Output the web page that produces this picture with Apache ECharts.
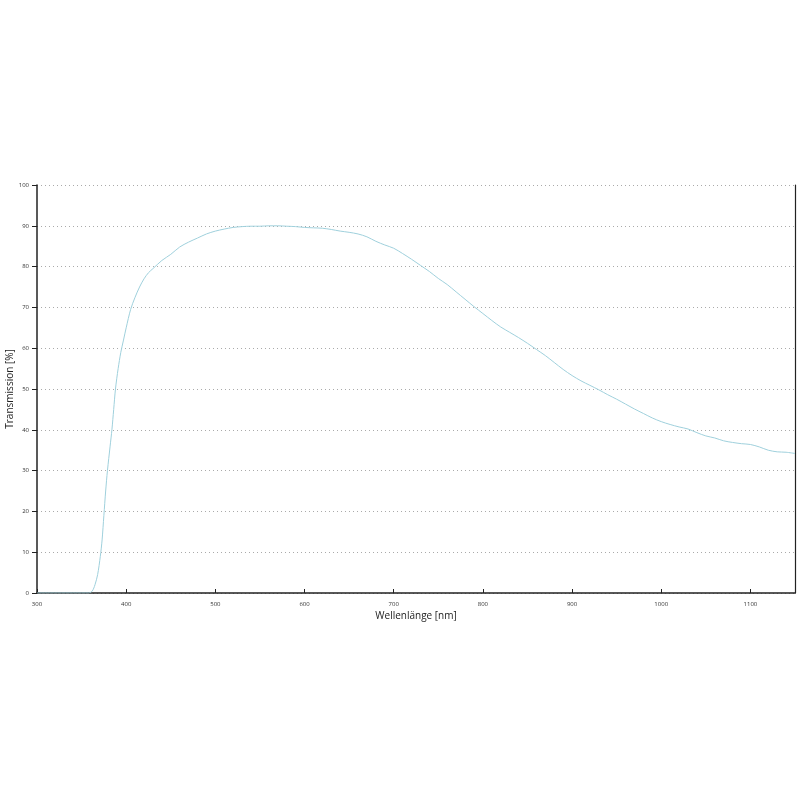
<!DOCTYPE html>
<html>
<head>
<meta charset="utf-8">
<script src="https://cdn.jsdelivr.net/npm/echarts@6/dist/echarts.min.js"></script>
<style>
  html, body { margin: 0; padding: 0; background: #fff; }
  #chart { width: 800px; height: 800px; }
</style>
</head>
<body>
<div id="chart"></div>
<script>
// wavelength in nm
const wavelengths = [
  300, 350, 358, 362, 365, 368, 371, 373, 375, 377, 379, 382, 384, 386, 388, 391, 394, 397,
  400, 405, 410, 415, 420, 425, 430, 440, 450, 460, 470, 480, 490,
  500, 510, 520, 530, 540, 550, 560, 570, 580, 590,
  600, 610, 620, 630, 640, 650, 660, 670, 680, 690,
  700, 710, 720, 730, 740, 750, 760, 770, 780, 790,
  800, 810, 820, 830, 840, 850, 860, 870, 880, 890,
  900, 910, 920, 930, 940, 950, 960, 970, 980, 990,
  1000, 1010, 1020, 1030, 1040, 1050, 1060, 1070, 1080, 1090,
  1100, 1110, 1120, 1130, 1140, 1150
]
// transmission in %
const transmission = [
  0, 0, 0, 0.5, 2, 4.5, 9, 13, 19, 25, 30, 36, 40, 45, 50, 55, 59, 62,
  65, 69.5, 72.5, 75, 77, 78.5, 79.5, 81.5, 83, 84.8, 86, 87, 88,
  88.7, 89.2, 89.6, 89.8, 89.9, 89.9, 90, 90, 89.9, 89.8,
  89.6, 89.5, 89.4, 89.1, 88.7, 88.4, 88, 87.3, 86.2, 85.3,
  84.5, 83.2, 81.8, 80.3, 78.8, 77.1, 75.6, 73.8, 72, 70.2,
  68.5, 66.8, 65.2, 63.9, 62.6, 61.2, 59.7, 58.2, 56.5, 54.8,
  53.3, 52, 50.9, 49.8, 48.6, 47.5, 46.3, 45.1, 44, 42.9,
  42, 41.3, 40.7, 40.2, 39.3, 38.5, 38, 37.3, 36.9, 36.6,
  36.4, 35.8, 35, 34.6, 34.5, 34.2
]

const myChart = echarts.init(document.getElementById('chart'))
myChart.setOption({
  animation: false,
  textStyle: { fontFamily: 'Open Sans' },
  grid: { left: 37, right: 5, top: 185, bottom: 207, containLabel: false, outerBoundsMode: 'none' },
  xAxis: {
    type: 'value',
    min: 300,
    max: 1150,
    interval: 100,
    name: 'Wellenlänge [nm]',
    nameLocation: 'middle',
    nameGap: 18,
    nameMoveOverlap: false,
    nameTextStyle: { fontSize: 10, color: '#222' },
    axisLine: { lineStyle: { color: '#222', width: 1.5 } },
    axisTick: { show: true, inside: true, length: 4, lineStyle: { color: '#222' } },
    axisLabel: { fontSize: 6, color: '#333', margin: 8, showMaxLabel: false, formatter: v => String(v) },
    splitLine: { show: false }
  },
  yAxis: [
    {
      type: 'value',
      min: 0,
      max: 100,
      interval: 10,
      name: 'Transmission [%]',
      nameLocation: 'middle',
      nameGap: 22,
      nameMoveOverlap: false,
      nameTextStyle: { fontSize: 10, color: '#222' },
      axisLine: { show: true, lineStyle: { color: '#222', width: 1.5 } },
      axisTick: { show: true, length: 5, lineStyle: { color: '#222' } },
      axisLabel: { fontSize: 6, color: '#333', margin: 8 },
      splitLine: { show: true, lineStyle: { color: '#aaa', type: [1, 3] } }
    },
    {
      type: 'value',
      position: 'right',
      min: 0,
      max: 100,
      interval: 10,
      axisLine: { show: true, lineStyle: { color: '#222', width: 1.2 } },
      axisTick: { show: false },
      axisLabel: { show: false },
      splitLine: { show: false }
    }
  ],
  series: [
    {
      type: 'line',
      data: wavelengths.map((w, i) => [w, transmission[i]]),
      showSymbol: false,
      smooth: 0.3,
      lineStyle: { color: '#9fd0dc', width: 1 }
    }
  ]
})
</script>
</body>
</html>
